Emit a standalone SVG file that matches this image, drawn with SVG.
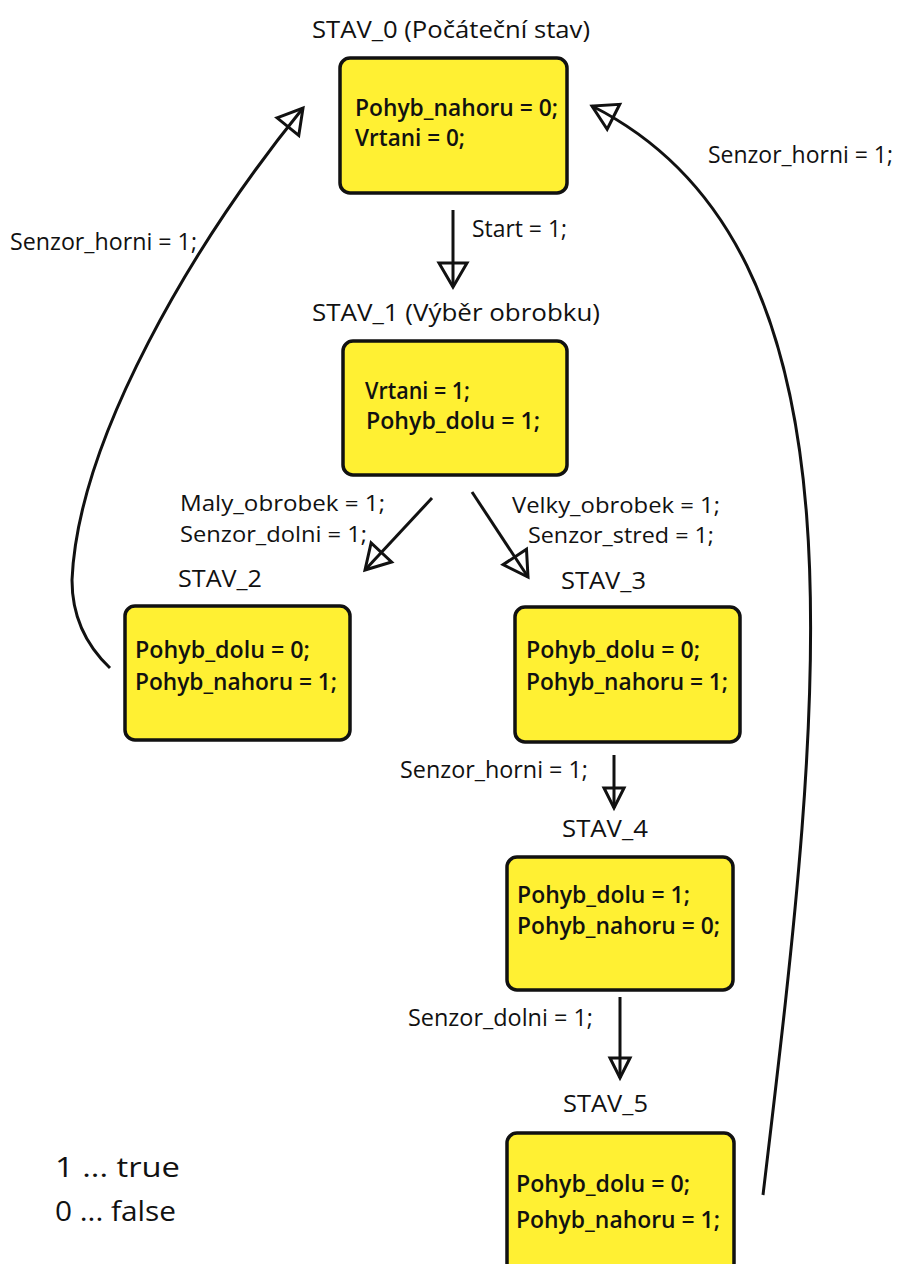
<svg xmlns="http://www.w3.org/2000/svg" width="901" height="1264" viewBox="0 0 901 1264">
<defs>
<style>
text{font-family:"Open Sans","Noto Sans","Liberation Sans",sans-serif;fill:#111;}
.t{font-size:24px;}
.b{font-size:23px;font-weight:600;}
.l{font-size:23px;}
.s{font-size:21px;}
.g{font-size:28px;}
.box{fill:#fff033;stroke:#111;stroke-width:3.5;}
.c{fill:none;stroke:#111;stroke-width:3;}
</style>
<marker id="ah" markerUnits="userSpaceOnUse" viewBox="-3 -17 30 34" refX="24" refY="0" markerWidth="30" markerHeight="34" orient="auto" overflow="visible">
<path d="M0,-14 L24,0 L0,14 Z" fill="none" stroke="#111" stroke-width="3"/>
</marker>
<marker id="ahs" markerUnits="userSpaceOnUse" viewBox="-3 -14 26 28" refX="20" refY="0" markerWidth="26" markerHeight="28" orient="auto" overflow="visible">
<path d="M0,-10 L20,0 L0,10 Z" fill="none" stroke="#111" stroke-width="3"/>
</marker>
</defs>
<rect width="901" height="1264" fill="#fff"/>
<g id="connectors">
<path class="c" d="M453,210 L453,287" marker-end="url(#ah)"/>
<path class="c" d="M432,498 L365,570" marker-end="url(#ah)"/>
<path class="c" d="M472,492 L528,577" marker-end="url(#ah)"/>
<path class="c" d="M614,755 L614,808" marker-end="url(#ahs)"/>
<path class="c" d="M620,997 L620,1078" marker-end="url(#ahs)"/>
<path class="c" d="M110,668 Q72,632 72,580 C78,440 192,245 303,108" marker-end="url(#ah)"/>
<path class="c" d="M763,1195 C822,700 878,250 592,106" marker-end="url(#ah)"/>
<text class="l" x="472" y="237" textLength="95" lengthAdjust="spacingAndGlyphs">Start = 1;</text>
<text class="l" x="10" y="250" textLength="187" lengthAdjust="spacingAndGlyphs">Senzor_horni = 1;</text>
<text class="l" x="708" y="163" textLength="185" lengthAdjust="spacingAndGlyphs">Senzor_horni = 1;</text>
<text class="s" x="180" y="511" textLength="205" lengthAdjust="spacingAndGlyphs">Maly_obrobek = 1;</text>
<text class="s" x="180" y="542" textLength="187" lengthAdjust="spacingAndGlyphs">Senzor_dolni = 1;</text>
<text class="s" x="512" y="513" textLength="208" lengthAdjust="spacingAndGlyphs">Velky_obrobek = 1;</text>
<text class="s" x="528" y="543" textLength="186" lengthAdjust="spacingAndGlyphs">Senzor_stred = 1;</text>
<text class="l" x="400" y="778" textLength="188" lengthAdjust="spacingAndGlyphs">Senzor_horni = 1;</text>
<text class="l" x="408" y="1026" textLength="185" lengthAdjust="spacingAndGlyphs">Senzor_dolni = 1;</text>
</g>
<g id="stav0">
<text class="t" x="312" y="38" textLength="278" lengthAdjust="spacingAndGlyphs">STAV_0 (Počáteční stav)</text>
<rect class="box" x="340" y="58" width="227" height="135" rx="10"/>
<text class="b" x="355" y="116" textLength="203" lengthAdjust="spacingAndGlyphs">Pohyb_nahoru = 0;</text>
<text class="b" x="355" y="146" textLength="110" lengthAdjust="spacingAndGlyphs">Vrtani = 0;</text>
</g>
<g id="stav1">
<text class="t" x="312" y="321" textLength="288" lengthAdjust="spacingAndGlyphs">STAV_1 (Výběr obrobku)</text>
<rect class="box" x="343" y="341" width="224" height="134" rx="10"/>
<text class="b" x="365" y="399" textLength="105" lengthAdjust="spacingAndGlyphs">Vrtani = 1;</text>
<text class="b" x="366" y="429" textLength="174" lengthAdjust="spacingAndGlyphs">Pohyb_dolu = 1;</text>
</g>
<g id="stav2">
<text class="t" x="178" y="587" textLength="84" lengthAdjust="spacingAndGlyphs">STAV_2</text>
<rect class="box" x="125" y="606" width="225" height="134" rx="10"/>
<text class="b" x="135" y="658" textLength="175" lengthAdjust="spacingAndGlyphs">Pohyb_dolu = 0;</text>
<text class="b" x="135" y="690" textLength="202" lengthAdjust="spacingAndGlyphs">Pohyb_nahoru = 1;</text>
</g>
<g id="stav3">
<text class="t" x="561" y="589" textLength="85" lengthAdjust="spacingAndGlyphs">STAV_3</text>
<rect class="box" x="515" y="607" width="225" height="135" rx="10"/>
<text class="b" x="526" y="658" textLength="174" lengthAdjust="spacingAndGlyphs">Pohyb_dolu = 0;</text>
<text class="b" x="526" y="690" textLength="202" lengthAdjust="spacingAndGlyphs">Pohyb_nahoru = 1;</text>
</g>
<g id="stav4">
<text class="t" x="562" y="837" textLength="86" lengthAdjust="spacingAndGlyphs">STAV_4</text>
<rect class="box" x="507" y="857" width="226" height="133" rx="10"/>
<text class="b" x="517" y="903" textLength="173" lengthAdjust="spacingAndGlyphs">Pohyb_dolu = 1;</text>
<text class="b" x="517" y="934" textLength="203" lengthAdjust="spacingAndGlyphs">Pohyb_nahoru = 0;</text>
</g>
<g id="stav5">
<text class="t" x="563" y="1112" textLength="85" lengthAdjust="spacingAndGlyphs">STAV_5</text>
<rect class="box" x="507" y="1133" width="227" height="140" rx="10"/>
<text class="b" x="516" y="1192" textLength="174" lengthAdjust="spacingAndGlyphs">Pohyb_dolu = 0;</text>
<text class="b" x="516" y="1228" textLength="204" lengthAdjust="spacingAndGlyphs">Pohyb_nahoru = 1;</text>
</g>
<g id="legend">
<text class="g" x="55" y="1177" textLength="125" lengthAdjust="spacingAndGlyphs">1 ... true</text>
<text class="g" x="55" y="1221" textLength="121" lengthAdjust="spacingAndGlyphs">0 ... false</text>
</g>
</svg>
